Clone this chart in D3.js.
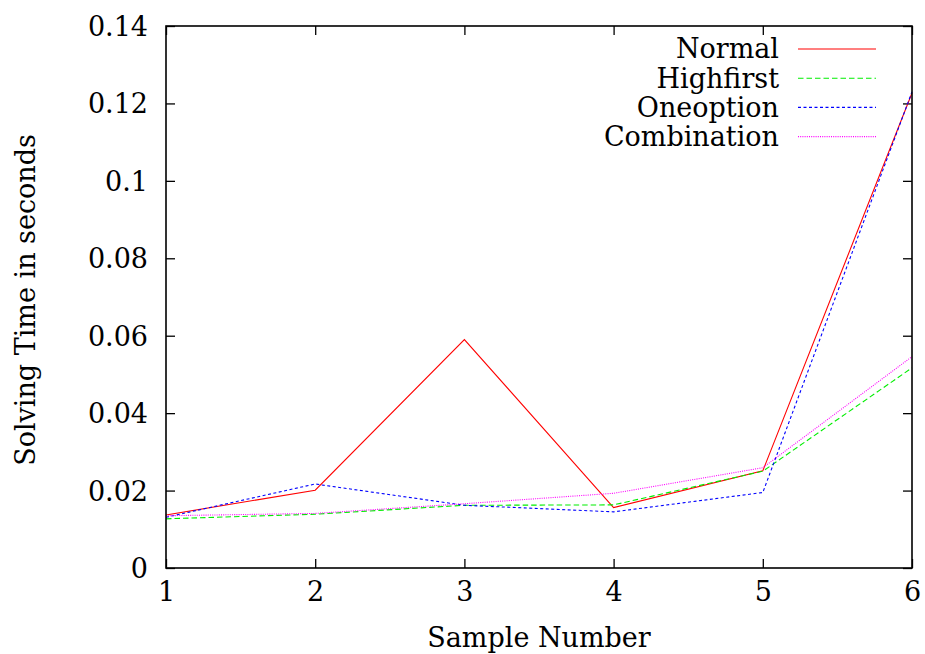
<!DOCTYPE html>
<html>
<head>
<meta charset="utf-8">
<script src="https://d3js.org/d3.v7.min.js"></script>
<style>
  body { margin: 0; background: #fff; }
</style>
</head>
<body>
<div id="chart"></div>
<script>
// samples on the x axis
var samples = [1, 2, 3, 4, 5, 6];
// solving time per sample (seconds)
var normal      = [0.0137, 0.0201, 0.0590, 0.0156, 0.0251, 0.1227];
var highfirst   = [0.0127, 0.0139, 0.0162, 0.0163, 0.0250, 0.0517];
var oneoption   = [0.0131, 0.0217, 0.0162, 0.0145, 0.0195, 0.1230];
var combination = [0.0135, 0.0141, 0.0166, 0.0193, 0.0259, 0.0546];
var seriesNames = ["Normal", "Highfirst", "Oneoption", "Combination"];
var yTicks = [0, 0.02, 0.04, 0.06, 0.08, 0.1, 0.12, 0.14];

var seriesValues = [normal, highfirst, oneoption, combination];
var colors = ["#ff0000", "#00ee00", "#0000ff", "#ff00ff"];
var dashes = [null, "5.5,3", "3,2.5", "1,1.2"];

var FONT = "'DejaVu Serif', 'Liberation Serif', serif";
var FS = "27px";

var W = 925, H = 654;
var margin = {top: 26, right: 13, bottom: 86, left: 166};
var width = W - margin.left - margin.right,
    height = H - margin.top - margin.bottom;

var svg = d3.select("#chart").append("svg")
    .attr("width", W).attr("height", H);
var g = svg.append("g")
    .attr("transform", "translate(" + margin.left + "," + margin.top + ")");

var x = d3.scaleLinear().domain([1, 6]).range([0, width]);
var y = d3.scaleLinear().domain([0, 0.14]).range([height, 0]);

var fmt = function(d) { return d === 0 ? "0" : String(+d.toFixed(2)); };

// axes with inward ticks, mirrored on top and right
var tl = 9;
var axBottom = g.append("g").attr("transform", "translate(0," + height + ")")
  .call(d3.axisBottom(x).tickValues(samples).tickSizeInner(-tl).tickSizeOuter(0).tickPadding(14).tickFormat(d3.format("d")));
var axLeft = g.append("g")
  .call(d3.axisLeft(y).tickValues(yTicks).tickSizeInner(-tl).tickSizeOuter(0).tickPadding(18).tickFormat(fmt));
var axTop = g.append("g")
  .call(d3.axisTop(x).tickValues(samples).tickSizeInner(-tl).tickSizeOuter(0).tickFormat(""));
var axRight = g.append("g").attr("transform", "translate(" + width + ",0)")
  .call(d3.axisRight(y).tickValues(yTicks).tickSizeInner(-tl).tickSizeOuter(0).tickFormat(""));

[axBottom, axLeft, axTop, axRight].forEach(function(a) {
  a.select(".domain").remove();
  a.selectAll("line").attr("stroke", "#000").attr("stroke-width", 1.3);
  a.selectAll("text").style("font-family", FONT).style("font-size", FS).attr("fill", "#000");
});
axBottom.selectAll("text").attr("dy", "0.71em");
axLeft.selectAll("text").attr("dy", "0.35em");

// plot lines
var line = d3.line()
  .x(function(d, i) { return x(samples[i]); })
  .y(function(d) { return y(d); });

seriesValues.forEach(function(vals, k) {
  g.append("path")
    .datum(vals)
    .attr("fill", "none")
    .attr("stroke", colors[k])
    .attr("stroke-width", 1.1)
    .attr("stroke-dasharray", dashes[k])
    .attr("d", line);
});

// frame
g.append("rect")
  .attr("width", width).attr("height", height)
  .attr("fill", "none").attr("stroke", "#000").attr("stroke-width", 1.6);

// legend
var legend = g.append("g").attr("transform", "translate(" + (779 - margin.left) + "," + (49 - margin.top) + ")");
seriesNames.forEach(function(name, k) {
  var row = legend.append("g").attr("transform", "translate(0," + (k * 29.2) + ")");
  row.append("text")
    .attr("text-anchor", "end")
    .attr("dy", "0.35em")
    .style("font-family", FONT)
    .style("font-size", FS)
    .text(name);
  row.append("line")
    .attr("x1", 19).attr("x2", 97)
    .attr("stroke", colors[k])
    .attr("stroke-width", 1.1)
    .attr("stroke-dasharray", dashes[k]);
});

// axis titles
svg.append("text")
  .attr("x", margin.left + width / 2)
  .attr("y", 647)
  .attr("text-anchor", "middle")
  .style("font-family", FONT)
  .style("font-size", FS)
  .text("Sample Number");

svg.append("text")
  .attr("transform", "translate(35,300) rotate(-90)")
  .attr("text-anchor", "middle")
  .style("font-family", FONT)
  .style("font-size", FS)
  .text("Solving Time in seconds");
</script>
</body>
</html>
